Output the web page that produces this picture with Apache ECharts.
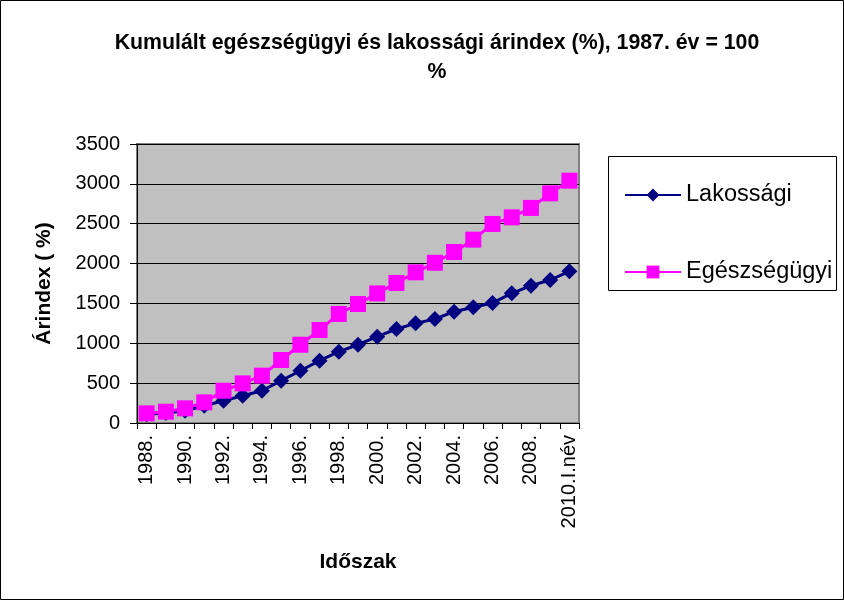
<!DOCTYPE html>
<html>
<head>
<meta charset="utf-8">
<script src="https://cdn.jsdelivr.net/npm/echarts@6/dist/echarts.min.js"></script>
<style>
html,body{margin:0;padding:0;background:#fff;}
#c{width:844px;height:600px;}
</style>
</head>
<body>
<div id="c"></div>
<script>
const categories = ['1988.','1989.','1990.','1991.','1992.','1993.','1994.','1995.','1996.','1997.','1998.','1999.','2000.','2001.','2002.','2003.','2004.','2005.','2006.','2007.','2008.','2009.','2010.I.név'];
const lakossagi = [110,125,154,217,280,342,405,531,656,782,895,982,1083,1179,1250,1305,1396,1451,1506,1627,1723,1794,1903];
const egeszsegugyi = [121,142,184,259,405,497,594,790,982,1167,1368,1493,1626,1757,1890,2010,2145,2300,2497,2580,2698,2881,3040];
const yTicks = [0,500,1000,1500,2000,2500,3000,3500];

const FONT = '"Liberation Sans", Arial, sans-serif';
const chart = echarts.init(document.getElementById('c'));
chart.setOption({
  animation: false,
  backgroundColor: '#ffffff',
  title: {
    text: 'Kumulált egészségügyi és lakossági árindex (%), 1987. év = 100\n%',
    left: 432, top: 24, textAlign: 'center',
    textStyle: {fontFamily: FONT, fontSize: 21.3, fontWeight: 'bold', color: '#000', lineHeight: 29}
  },
  legend: {
    orient: 'vertical',
    left: 624, top: 183,
    itemGap: 53, itemWidth: 56, itemHeight: 16,
    padding: 0,
    textStyle: {fontFamily: FONT, fontSize: 23.5, color: '#000', padding: [0,0,0,0]},
    data: ['Lakossági','Egészségügyi']
  },
  graphic: [
    {type:'rect', shape:{x:0.5,y:0.5,width:843,height:599}, style:{fill:'none',stroke:'#000',lineWidth:1}, silent:true},
    {type:'rect', shape:{x:608.5,y:156.5,width:228,height:134}, style:{fill:'none',stroke:'#000',lineWidth:1}, silent:true}
  ],
  grid: {
    left: 137, right: 265, top: 144, bottom: 177,
    show: true, backgroundColor: '#C0C0C0', borderColor: '#808080', borderWidth: 2
  },
  xAxis: {
    type: 'category', data: categories, boundaryGap: true,
    name: 'Időszak', nameLocation: 'middle', nameGap: 129,
    nameTextStyle: {fontFamily: FONT, fontSize: 21, fontWeight: 'bold', color: '#000'},
    axisLine: {show: true, lineStyle: {color: '#000', width: 1}},
    axisTick: {show: true, interval: 0, length: 6, lineStyle: {color: '#000'}},
    axisLabel: {interval: 1, rotate: 90, fontFamily: FONT, fontSize: 20, color: '#000', margin: 12},
    splitLine: {show: false}
  },
  yAxis: {
    type: 'value', min: 0, max: 3500, interval: 500,
    name: 'Árindex ( %)', nameLocation: 'middle', nameGap: 82,
    nameTextStyle: {fontFamily: FONT, fontSize: 21, fontWeight: 'bold', color: '#000'},
    axisLine: {show: true, lineStyle: {color: '#000', width: 1}},
    axisTick: {show: true, length: 7, lineStyle: {color: '#000'}},
    axisLabel: {fontFamily: FONT, fontSize: 20, color: '#000', margin: 17,
      formatter: v => yTicks.includes(v) ? String(v) : ''},
    splitLine: {show: true, lineStyle: {color: '#000', width: 1}}
  },
  series: [
    {
      name: 'Lakossági', type: 'line', data: lakossagi,
      symbol: 'diamond', symbolSize: 16, showAllSymbol: true,
      lineStyle: {color: '#000080', width: 3},
      itemStyle: {color: '#000080'}
    },
    {
      name: 'Egészségügyi', type: 'line', data: egeszsegugyi,
      symbol: 'rect', symbolSize: 16, showAllSymbol: true,
      lineStyle: {color: '#FF00FF', width: 3},
      itemStyle: {color: '#FF00FF'}
    }
  ]
});
</script>
</body>
</html>
